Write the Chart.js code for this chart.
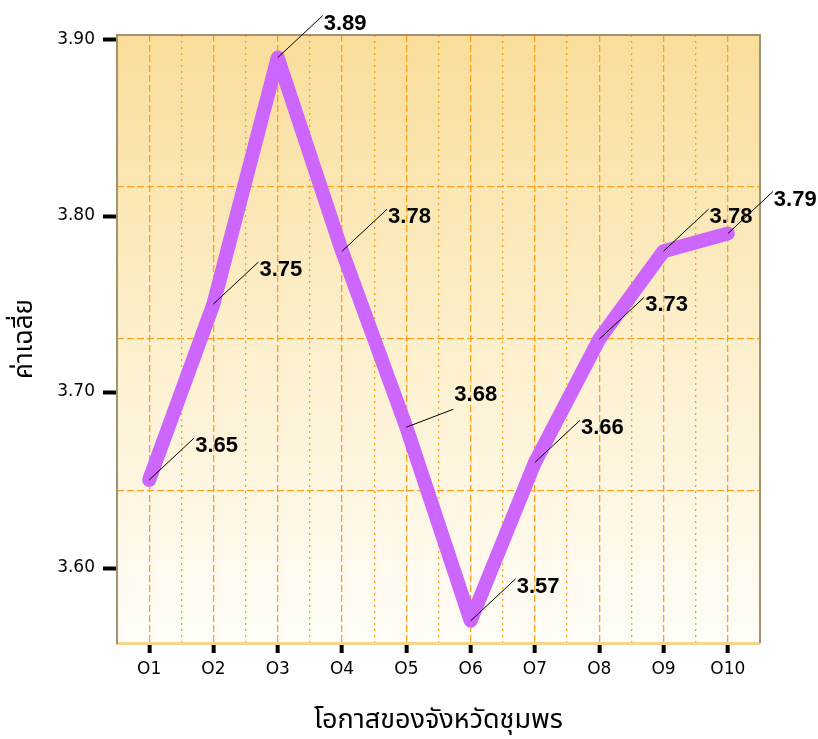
<!DOCTYPE html>
<html>
<head>
<meta charset="utf-8">
<script src="https://cdn.jsdelivr.net/npm/chart.js@4.4.0/dist/chart.umd.min.js"></script>
<style>
  html, body { margin: 0; padding: 0; background: #fff; }
  #wrap { width: 818px; height: 739px; }
</style>
</head>
<body>
<div id="wrap"><canvas id="chart" width="818" height="739"></canvas></div>
<script>
const categories = ['O1', 'O2', 'O3', 'O4', 'O5', 'O6', 'O7', 'O8', 'O9', 'O10'];
const means = [3.65, 3.75, 3.89, 3.78, 3.68, 3.57, 3.66, 3.73, 3.78, 3.79];
const yTicks = [3.6, 3.7, 3.8, 3.9];
const quarterTicks = [0, 1, 2, 3, 4];

const orange = '#fba31c';

// gradient fill behind the plot + top/right frame
const plotBackground = {
  id: 'plotBackground',
  beforeDraw(chart) {
    const { ctx, chartArea: a } = chart;
    const g = ctx.createLinearGradient(0, a.top, 0, a.bottom);
    g.addColorStop(0, '#f9dd9a');
    g.addColorStop(0.5, '#fcefcb');
    g.addColorStop(1, '#fffdf8');
    ctx.save();
    ctx.fillStyle = g;
    ctx.fillRect(a.left, a.top, a.right - a.left, a.bottom - a.top);
    ctx.restore();
  },
  beforeDatasetsDraw(chart) {
    const { ctx, chartArea: a } = chart;
    ctx.save();
    ctx.strokeStyle = '#a09272';
    ctx.lineWidth = 2;
    ctx.beginPath();
    ctx.moveTo(a.left, a.top);
    ctx.lineTo(a.right, a.top);
    ctx.lineTo(a.right, a.bottom);
    ctx.stroke();
    ctx.restore();
  }
};

// value labels with leader lines
const valueLabels = {
  id: 'valueLabels',
  afterDatasetsDraw(chart) {
    const { ctx } = chart;
    const meta = chart.getDatasetMeta(0);
    ctx.save();
    ctx.font = 'bold 22px "Liberation Sans", Arial, sans-serif';
    ctx.textAlign = 'left';
    ctx.textBaseline = 'middle';
    meta.data.forEach((pt, i) => {
      let dx = 45, dy = -42, ty = 8;
      if (i === 4) { dx = 47; dy = -18; ty = -14; }
      ctx.strokeStyle = '#000';
      ctx.lineWidth = 1;
      ctx.beginPath();
      ctx.moveTo(pt.x, pt.y);
      ctx.lineTo(pt.x + dx, pt.y + dy);
      ctx.stroke();
      ctx.fillStyle = '#000';
      ctx.fillText(means[i].toFixed(2), pt.x + dx + 1, pt.y + dy + ty);
    });
    ctx.restore();
  }
};

new Chart(document.getElementById('chart'), {
  type: 'line',
  data: {
    labels: categories,
    datasets: [{
      data: means,
      borderColor: '#cc66ff',
      borderWidth: 14,
      borderCapStyle: 'round',
      borderJoinStyle: 'round',
      pointRadius: 0,
      tension: 0,
      fill: false
    }]
  },
  options: {
    responsive: false,
    animation: false,
    layout: { padding: { top: 35, right: 58, left: 0, bottom: 0 } },
    plugins: { legend: { display: false }, tooltip: { enabled: false } },
    scales: {
      x: {
        type: 'category',
        offset: true,
        grid: {
          offset: false,
          color: orange,
          lineWidth: 1.3,
          drawTicks: true,
          tickLength: 10,
          tickWidth: 4,
          tickColor: '#000',
          tickBorderDash: []
        },
        border: { display: true, color: '#f6d68f', width: 3, dash: [7, 3] },
        ticks: {
          color: '#000',
          padding: 6,
          maxRotation: 0,
          autoSkip: false,
          font: { family: '"DejaVu Sans", sans-serif', size: 17 }
        },
        title: {
          display: true,
          text: 'โอกาสของจังหวัดชุมพร',
          color: '#000',
          font: { family: '"Noto Sans Thai", "Noto Sans", sans-serif', size: 27 },
          padding: { top: 4, bottom: 0 }
        },
        afterFit(scale) { scale.height = 96; }
      },
      x2: {
        type: 'category',
        labels: categories,
        position: 'bottom',
        offset: true,
        grid: {
          offset: true,
          color: orange,
          lineWidth: 1.3,
          drawTicks: false
        },
        border: { display: false, dash: [2, 4] },
        ticks: { display: false }
      },
      y: {
        min: 3.55739,
        max: 3.90284,
        afterBuildTicks(scale) { scale.ticks = yTicks.map(v => ({ value: v })); },
        grid: {
          drawOnChartArea: false,
          drawTicks: true,
          tickLength: 14,
          tickWidth: 4,
          tickColor: '#000'
        },
        border: { display: true, color: '#a09272', width: 2 },
        ticks: {
          color: '#000',
          padding: 8,
          callback: v => Number(v).toFixed(2),
          font: { family: '"DejaVu Sans", sans-serif', size: 17 }
        },
        title: {
          display: true,
          text: 'ค่าเฉลี่ย',
          color: '#000',
          font: { family: '"Noto Sans Thai", "Noto Sans", sans-serif', size: 26 },
          padding: { top: 11, bottom: 0 }
        },
        afterFit(scale) { scale.width = 117; }
      },
      yq: {
        type: 'linear',
        position: 'left',
        min: 0,
        max: 4,
        afterBuildTicks(scale) { scale.ticks = quarterTicks.map(v => ({ value: v })); },
        grid: {
          color: orange,
          lineWidth: 1.3,
          drawTicks: false
        },
        border: { display: false, dash: [7, 3] },
        ticks: { display: false }
      }
    }
  },
  plugins: [plotBackground, valueLabels]
});
</script>
</body>
</html>
